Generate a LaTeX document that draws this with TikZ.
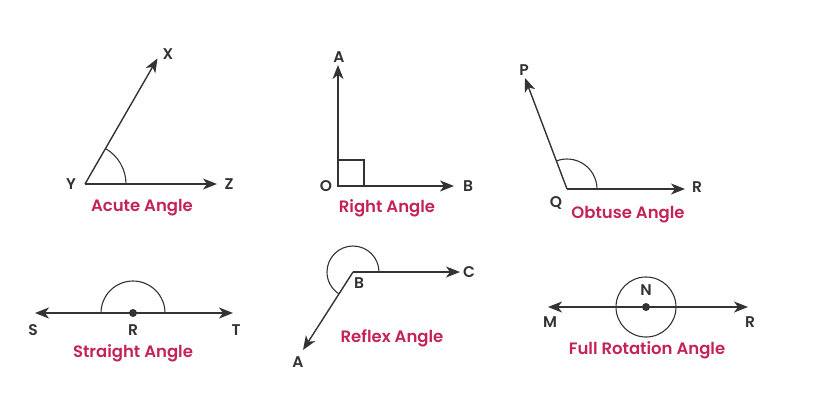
\documentclass[tikz,border=0pt]{standalone}
\usepackage{fontspec}
\setmainfont{Poppins}[BoldFont={Poppins SemiBold}]
\usetikzlibrary{arrows.meta,calc}
\definecolor{raycol}{RGB}{51,51,51}
\definecolor{captioncol}{RGB}{196,35,88}
\tikzset{
  ray/.style={draw=raycol, line width=1.4pt, -{Stealth[length=14pt,width=11pt,inset=4pt]}},
  anglemark/.style={draw=raycol, line width=1.1pt},
  letter/.style={text=raycol, font=\fontsize{15.5}{15.5}\selectfont\bfseries, inner sep=0pt},
  caption/.style={text=captioncol, font=\fontsize{16.5}{16.5}\selectfont\bfseries, inner sep=0pt},
  pointdot/.style={circle, fill=raycol, inner sep=0pt, minimum size=8pt}
}
\begin{document}
\begin{tikzpicture}[x=1pt, y=-1pt]
  \useasboundingbox (0,0) rectangle (837,405);

  % acute angle
  \coordinate (Y) at (85,184);
  \coordinate (X) at ($(Y)+(-60:145)$);
  \coordinate (Z) at (217,184);
  \draw[ray] (Y) -- (X);
  \draw[ray] (Y) -- (Z);
  \draw[anglemark] ([shift={(0:41)}]Y) arc[start angle=0, end angle=-60, radius=41];
  \node[letter] (labX) at (168,54) {X};
  \node[letter] (labY) at (71,184) {Y};
  \node[letter] (labZ) at (229,184) {Z};
  \node[caption] (acute) at (142,208) {Acute Angle};

  % right angle
  \coordinate (O) at (338,186);
  \coordinate (A1) at (338,65);
  \coordinate (B1) at (454,186);
  \draw[ray] (O) -- (A1);
  \draw[ray] (O) -- (B1);
  \draw[anglemark] (O) rectangle ++(26,-26);
  \node[letter] (labA1) at (339,57) {A};
  \node[letter] (labO) at (326,186) {O};
  \node[letter] (labB1) at (468,186) {B};
  \node[caption] (right) at (387,208) {Right Angle};

  % obtuse angle
  \coordinate (Q) at (567,189);
  \coordinate (P) at (525,78);
  \coordinate (R1) at (685,189);
  \draw[ray] (Q) -- (P);
  \draw[ray] (Q) -- (R1);
  \draw[anglemark] ([shift={(0:30)}]Q) arc[start angle=0, end angle=-110.5, radius=30];
  \node[letter] (labP) at (524,70) {P};
  \node[letter] (labQ) at (556,203) {Q};
  \node[letter] (labR1) at (697,187) {R};
  \node[caption] (obtuse) at (628,215) {Obtuse Angle};

  % straight angle
  \coordinate (R2) at (133,313);
  \coordinate (S) at (35,313);
  \coordinate (T) at (233,313);
  \draw[ray] (R2) -- (S);
  \draw[ray] (R2) -- (T);
  \draw[anglemark] ([shift={(0:32)}]R2) arc[start angle=0, end angle=-180, radius=32];
  \node[pointdot] (dotR2) at (R2) {};
  \node[letter] (labS) at (33,330) {S};
  \node[letter] (labR2) at (133,330) {R};
  \node[letter] (labT) at (236,330) {T};
  \node[caption] (straight) at (133,353) {Straight Angle};

  % reflex angle
  \coordinate (B2) at (353,272);
  \coordinate (C) at (460,272);
  \coordinate (A2) at (303,350);
  \draw[ray] (B2) -- (C);
  \draw[ray] (B2) -- (A2);
  \draw[anglemark] ([shift={(0:26)}]B2) arc[start angle=0, end angle=-237.5, radius=26];
  \node[letter] (labB2) at (359,283) {B};
  \node[letter] (labC) at (469,272) {C};
  \node[letter] (labA2) at (298,362) {A};
  \node[caption] (reflex) at (392,338) {Reflex Angle};

  % full rotation angle
  \coordinate (N) at (646,307);
  \coordinate (M) at (548,307);
  \coordinate (R3) at (748,307);
  \draw[ray] (N) -- (M);
  \draw[ray] (N) -- (R3);
  \draw[anglemark] (N) circle[radius=30];
  \node[pointdot] (dotN) at (N) {};
  \node[letter] (labN) at (646,290) {N};
  \node[letter] (labM) at (550,322) {M};
  \node[letter] (labR3) at (750,322) {R};
  \node[caption] (full) at (647,350) {Full Rotation Angle};
\end{tikzpicture}
\end{document}
